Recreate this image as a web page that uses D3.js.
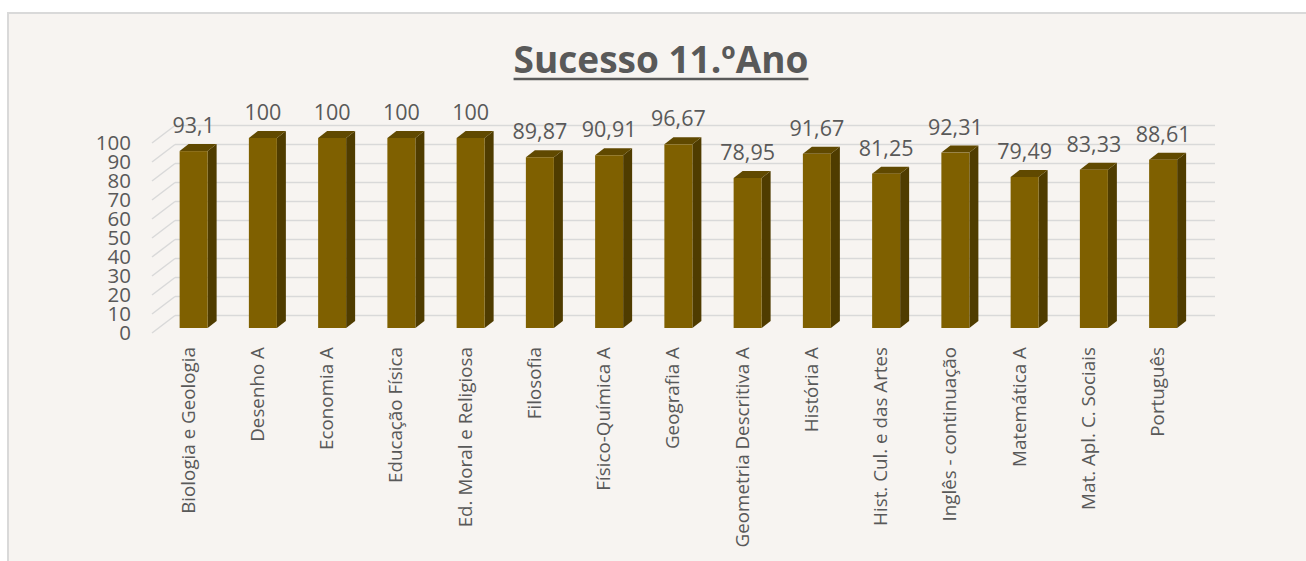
<!doctype html>
<html lang="pt">
<head>
  <meta charset="utf-8">
  <title>Sucesso 11.ºAno</title>
  <script src="https://cdn.jsdelivr.net/npm/d3@7"></script>
  <style>
    body { margin: 0; background: #fff; }
    text { font-family: "Open Sans", sans-serif; fill: #595959; }
  </style>
</head>
<body>
<div id="container"></div>
<script>
  // data
  const categories = ['Biologia e Geologia', 'Desenho A', 'Economia A', 'Educação Física',
    'Ed. Moral e Religiosa', 'Filosofia', 'Físico-Química A', 'Geografia A',
    'Geometria Descritiva A', 'História A', 'Hist. Cul. e das Artes', 'Inglês - continuação',
    'Matemática A', 'Mat. Apl. C. Sociais', 'Português'];
  const values = [93.1, 100, 100, 100, 100, 89.87, 90.91, 96.67, 78.95, 91.67, 81.25, 92.31, 79.49, 83.33, 88.61];
  const ticks = [0, 10, 20, 30, 40, 50, 60, 70, 80, 90, 100];
  const title = 'Sucesso 11.ºAno';

  const width = 1306, height = 561;
  const fmt = v => String(v).replace('.', ',');

  const svg = d3.select('#container')
    .append('svg')
    .attr('width', width)
    .attr('height', height);

  // chart frame
  svg.append('rect')
    .attr('x', 8).attr('y', 13)
    .attr('width', 1400).attr('height', 600)
    .style('fill', '#f7f4f1')
    .style('stroke', '#d9d9d9')
    .style('stroke-width', 2);

  // scales (front plane of the floor)
  const y = d3.scaleLinear().domain([0, 100]).range([333, 143]);
  const x = d3.scaleBand().domain(categories).range([163, 163 + 15 * 69.25]);

  const depth = { dx: 23, dy: -17.5 };   // wall depth
  const bar = { w: 28, dx: 9, dy: -7, off: 5 };  // bar box
  const wallLeft = 152, wallRight = 1215;

  // gridlines: side diagonals + back wall
  const grid = svg.append('g');
  grid.selectAll('line.diag')
    .data(ticks).enter().append('line')
    .attr('x1', wallLeft).attr('y1', d => y(d))
    .attr('x2', wallLeft + depth.dx).attr('y2', d => y(d) + depth.dy)
    .style('stroke', '#d9d9d9').style('stroke-width', 1.5);
  grid.selectAll('line.back')
    .data(ticks).enter().append('line')
    .attr('x1', wallLeft + depth.dx).attr('y1', d => y(d) + depth.dy)
    .attr('x2', wallRight).attr('y2', d => y(d) + depth.dy)
    .style('stroke', '#d9d9d9').style('stroke-width', 1.5);

  // y tick labels
  svg.append('g').selectAll('text')
    .data(ticks).enter().append('text')
    .attr('x', 131).attr('y', d => y(d))
    .attr('dy', '0.35em')
    .attr('text-anchor', 'end')
    .style('font-size', '20.5px')
    .text(d => d);

  // bars
  const rows = categories.map((c, i) => ({ c, v: values[i] }));
  const g = svg.append('g').selectAll('g')
    .data(rows).enter().append('g');

  const fx = d => x(d.c) + x.bandwidth() / 2 - 18;   // front face left
  const fb = () => y(0) - bar.off;                       // front face bottom
  const ft = d => y(d.v) - bar.off;                      // front face top

  g.append('path')  // side
    .attr('d', d => `M${fx(d) + bar.w},${ft(d)} l${bar.dx},${bar.dy} L${fx(d) + bar.w + bar.dx},${fb() + bar.dy} L${fx(d) + bar.w},${fb()}Z`)
    .style('fill', '#4f3c00');
  g.append('path')  // top
    .attr('d', d => `M${fx(d)},${ft(d)} l${bar.dx},${bar.dy} h${bar.w} l${-bar.dx},${-bar.dy}Z`)
    .style('fill', '#604900');
  g.append('rect')  // front
    .attr('x', fx).attr('y', ft)
    .attr('width', bar.w).attr('height', d => fb() - ft(d))
    .style('fill', '#7f6000');

  // data labels
  g.append('text')
    .attr('x', d => fx(d) + bar.w / 2)
    .attr('y', d => ft(d) + bar.dy - 11)
    .attr('text-anchor', 'middle')
    .style('font-size', '21.5px')
    .text(d => fmt(d.v));

  // category labels
  g.append('text')
    .attr('transform', d => `translate(${fx(d) + bar.w / 2 - 6},347)rotate(-90)`)
    .attr('dominant-baseline', 'central')
    .attr('text-anchor', 'end')
    .style('font-size', '18.8px')
    .text(d => d.c);

  // title
  const t = svg.append('text')
    .attr('x', 661).attr('y', 73)
    .attr('text-anchor', 'middle')
    .style('font-size', '37px')
    .style('font-weight', 'bold')
    .text(title);
  const tw = t.node().getComputedTextLength();
  svg.append('line')
    .attr('x1', 661 - tw / 2).attr('x2', 661 + tw / 2)
    .attr('y1', 79).attr('y2', 79)
    .style('stroke', '#595959').style('stroke-width', 2.5);
</script>
</body>
</html>
